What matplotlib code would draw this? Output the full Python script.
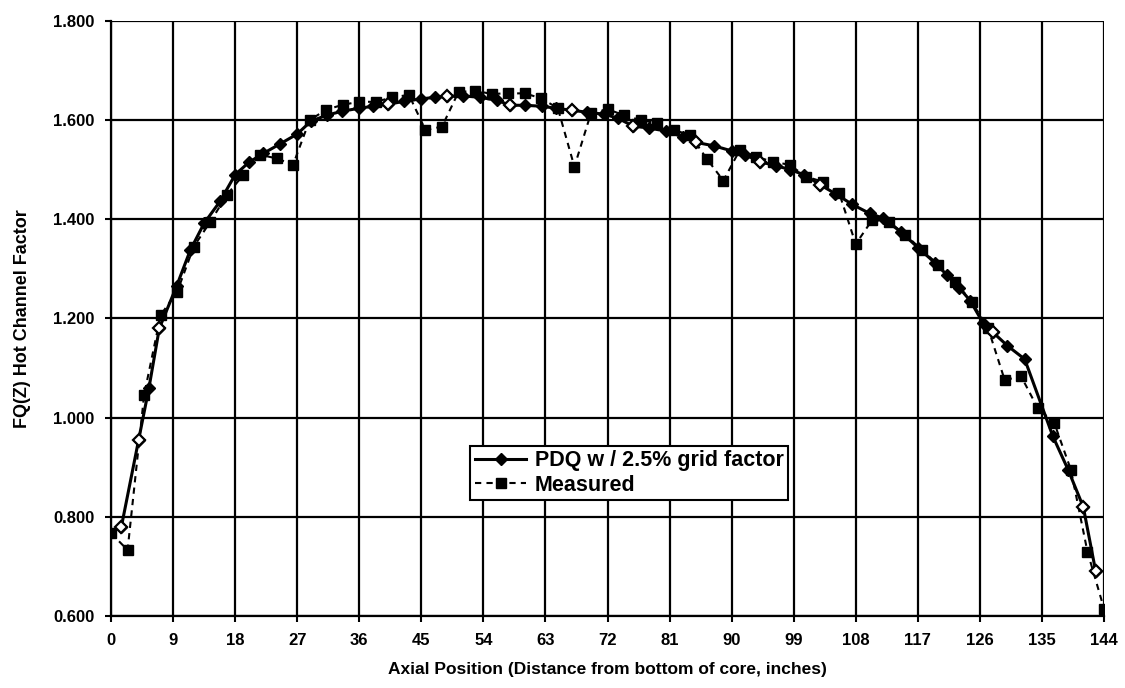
import numpy as np
import matplotlib.pyplot as plt

plt.rcParams['font.family'] = ['Liberation Sans', 'DejaVu Sans']
plt.rcParams['font.weight'] = 'bold'
plt.rcParams['axes.labelweight'] = 'bold'

# Measured hot channel factor, every 2.4 inches from the bottom of the core
measured_x = [0.0, 2.4, 4.8, 7.2, 9.6, 12.0, 14.4, 16.8, 19.2, 21.6,
              24.0, 26.4, 28.8, 31.2, 33.6, 36.0, 38.4, 40.8, 43.2, 45.6,
              48.0, 50.4, 52.8, 55.2, 57.6, 60.0, 62.4, 64.8, 67.2, 69.6,
              72.0, 74.4, 76.8, 79.2, 81.6, 84.0, 86.4, 88.8, 91.2, 93.6,
              96.0, 98.4, 100.8, 103.2, 105.6, 108.0, 110.4, 112.8, 115.2, 117.6,
              120.0, 122.4, 124.8, 127.2, 129.6, 132.0, 134.4, 136.8, 139.2, 141.6,
              144.0]
measured_fq = [0.767, 0.733, 1.046, 1.207, 1.254, 1.345, 1.395, 1.449, 1.490, 1.530,
               1.523, 1.510, 1.600, 1.621, 1.631, 1.637, 1.637, 1.646, 1.651, 1.580,
               1.587, 1.657, 1.659, 1.653, 1.654, 1.654, 1.644, 1.624, 1.506, 1.614,
               1.622, 1.610, 1.600, 1.594, 1.580, 1.570, 1.522, 1.478, 1.540, 1.526,
               1.516, 1.510, 1.486, 1.476, 1.453, 1.350, 1.399, 1.395, 1.369, 1.338,
               1.308, 1.274, 1.234, 1.180, 1.076, 1.083, 1.019, 0.989, 0.895, 0.730,
               0.615]

# PDQ prediction with 2.5% grid factor
pdq_x = [1.5, 4.0, 5.5, 7.0, 9.5, 11.5, 13.5, 15.8, 18.0, 20.0,
         22.1, 24.5, 27.0, 29.0, 31.3, 33.5, 36.0, 38.0, 40.2, 42.5,
         45.0, 47.0, 48.7, 51.0, 53.5, 56.0, 57.9, 60.0, 62.5, 64.5,
         66.8, 69.0, 71.5, 73.5, 75.7, 78.0, 80.5, 83.0, 84.9, 87.5,
         90.0, 92.0, 94.1, 96.5, 98.5, 100.5, 102.8, 105.0, 107.5, 110.0,
         112.0, 114.5, 117.1, 119.5, 121.2, 123.0, 124.6, 126.5, 127.9, 130.0,
         132.5, 136.6, 138.8, 141.0, 142.8]
pdq_fq = [0.780, 0.955, 1.060, 1.180, 1.265, 1.338, 1.392, 1.436, 1.490, 1.515,
          1.533, 1.552, 1.572, 1.598, 1.610, 1.618, 1.624, 1.628, 1.632, 1.638,
          1.643, 1.646, 1.648, 1.649, 1.646, 1.640, 1.630, 1.630, 1.628, 1.624,
          1.620, 1.616, 1.612, 1.604, 1.588, 1.584, 1.578, 1.566, 1.555, 1.548,
          1.538, 1.530, 1.516, 1.508, 1.500, 1.490, 1.470, 1.452, 1.430, 1.412,
          1.402, 1.375, 1.342, 1.312, 1.288, 1.262, 1.236, 1.190, 1.172, 1.145,
          1.118, 0.962, 0.895, 0.820, 0.690]
# diamonds that show up open in the scan
pdq_open = [0, 1, 3, 18, 22, 26, 30, 34, 38, 42, 46, 58, 63, 64]

x_ticks = np.arange(0, 145, 9)
y_ticks = [0.6, 0.8, 1.0, 1.2, 1.4, 1.6, 1.8]

fig = plt.figure(figsize=(11.25, 6.88), dpi=100)
ax = fig.add_axes([0.0987, 0.1047, 0.8826, 0.8648])

ax.plot(pdq_x, pdq_fq, color="black", lw=2.2, marker="D", ms=6,
        mfc="black", mec="black", label="PDQ w / 2.5% grid factor", zorder=4)
ax.plot(pdq_x, pdq_fq, ls="none", marker="D", ms=6.5, mfc="white", mec="black", mew=1.6,
        markevery=pdq_open, zorder=5)
ax.plot(measured_x, measured_fq, color="black", lw=1.5, ls=(0, (3, 2.5)), marker="s", ms=6.5,
        mfc="black", mec="black", label="Measured", zorder=3)

ax.set_xlim(0, 144)
ax.set_ylim(0.6, 1.8)
ax.set_xticks(x_ticks)
ax.set_yticks(y_ticks)
ax.set_yticklabels(["%.3f" % v for v in y_ticks])
ax.grid(True, color="black", lw=1.6)
ax.set_axisbelow(True)
for side in ["top", "right"]:
    ax.spines[side].set_visible(False)
for side in ["left", "bottom"]:
    ax.spines[side].set_linewidth(1.6)
ax.tick_params(direction="out", length=4, width=1.5, labelsize=12, pad=8)

ax.set_xlabel("Axial Position (Distance from bottom of core, inches)", fontsize=12.5, labelpad=10)
ax.set_ylabel("FQ(Z) Hot Channel Factor", fontsize=13, labelpad=16)

leg = ax.legend(loc="lower left", bbox_to_anchor=(0.362, 0.195), fontsize=15.5, frameon=True,
                fancybox=False, edgecolor="black", framealpha=1, borderpad=0.2,
                handlelength=2.4, handletextpad=0.4, labelspacing=0.15, borderaxespad=0)
leg.get_frame().set_linewidth(1.5)

plt.savefig("out.png", dpi=100)
